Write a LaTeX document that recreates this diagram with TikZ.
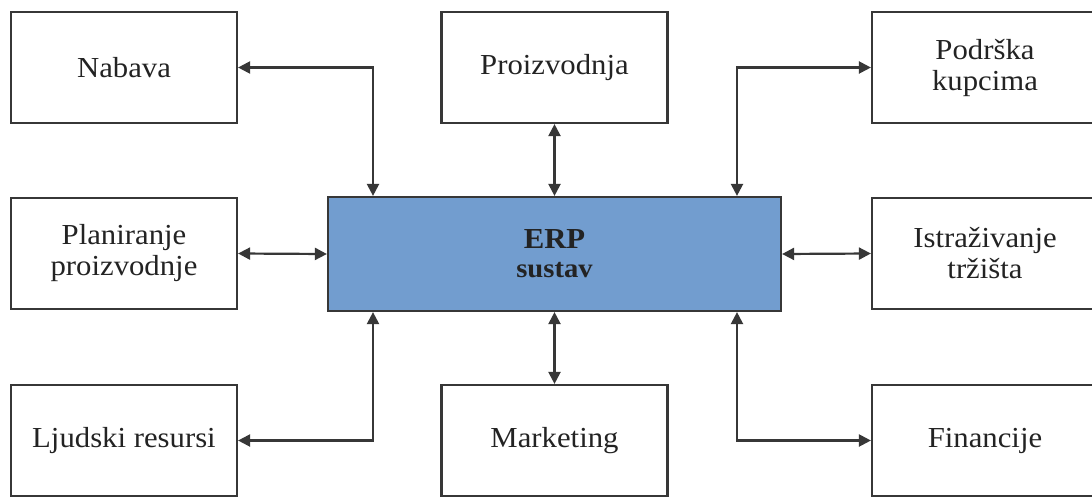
\documentclass[tikz,border=0pt]{standalone}
\usepackage{fontspec}
\setmainfont{Liberation Serif}
\newfontfamily\diaserif[FakeStretch=1.06]{Liberation Serif}
\usetikzlibrary{arrows.meta}
\definecolor{erpblue}{RGB}{114,157,207}
\definecolor{linegray}{RGB}{55,55,55}
\definecolor{textgray}{RGB}{35,35,35}
\tikzset{
  box/.style={draw=linegray, line width=2.2pt, fill=white, minimum width=226pt, minimum height=111pt,
    inner sep=0pt, align=center, text=textgray, font=\diaserif\fontsize{29}{31}\selectfont},
  erpbox/.style={box, fill=erpblue, minimum width=453pt, minimum height=114pt, font=\diaserif\bfseries\fontsize{29}{31}\selectfont},
  conn/.style={draw=linegray, line width=2.2pt, {Triangle[length=12pt,width=12pt]}-{Triangle[length=12pt,width=12pt]}}
}
\begin{document}
\begin{tikzpicture}[x=1pt,y=-1pt]
\clip (0,0) rectangle (1092,498);
\fill[white] (0,0) rectangle (1092,498);
\node[erpbox] (erp) at (554.5,254) {ERP\\[-2pt]{\fontsize{27}{31}\selectfont sustav}};
\node[box] (nab) at (124,67.5) {Nabava};
\node[box] (plan) at (124,253.5) {Planiranje\\proizvodnje};
\node[box] (ljud) at (124,440.5) {Ljudski resursi};
\node[box] (proiz) at (554.5,67.5) {Proizvodnja};
\node[box] (mark) at (554.5,440.5) {Marketing};
\node[box] (podr) at (985,67.5) {Podrška\\kupcima};
\node[box] (istr) at (985,253.5) {Istraživanje\\tržišta};
\node[box] (fin) at (985,440.5) {Financije};
\draw[conn] ([xshift=-181.5pt]erp.north) |- (nab.east);
\draw[conn] (erp.north) -- (proiz.south);
\draw[conn] ([xshift=182.5pt]erp.north) |- (podr.west);
\draw[conn] (erp.west) -- (plan.east);
\draw[conn] (erp.east) -- (istr.west);
\draw[conn] ([xshift=-181.5pt]erp.south) |- (ljud.east);
\draw[conn] (erp.south) -- (mark.north);
\draw[conn] ([xshift=182.5pt]erp.south) |- (fin.west);
\end{tikzpicture}
\end{document}
